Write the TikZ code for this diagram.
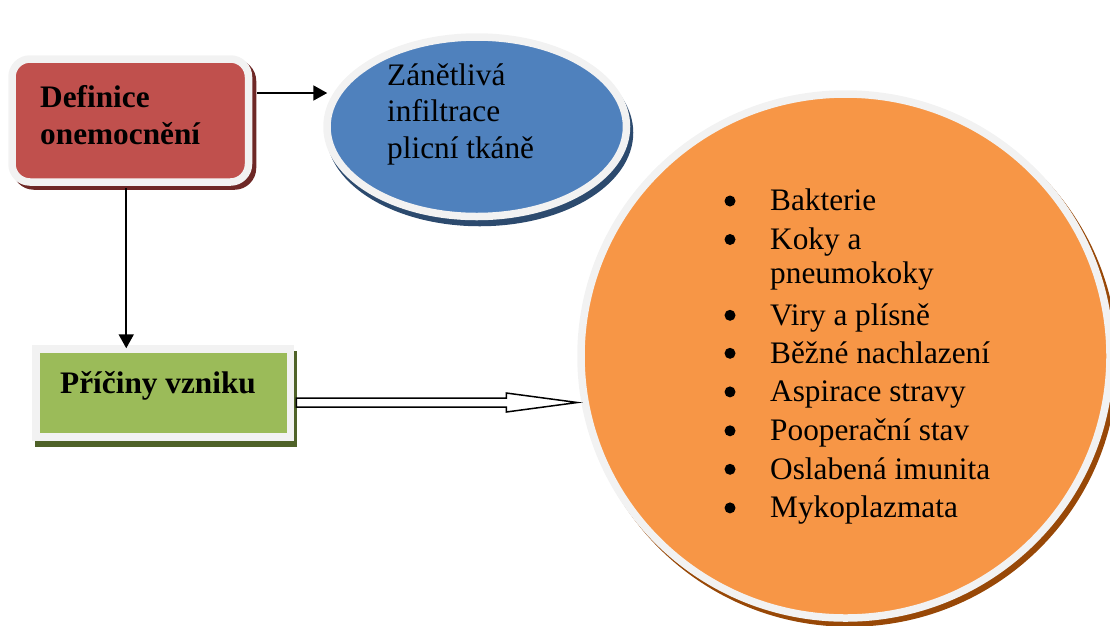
\documentclass[tikz,border=0pt]{standalone}
\usepackage{fontspec}
\setmainfont{Liberation Serif}
\usetikzlibrary{shapes.geometric,arrows.meta,calc}
\definecolor{rim}{HTML}{F2F2F2}
\definecolor{redfill}{HTML}{C0504D}
\definecolor{redshade}{HTML}{6E2826}
\definecolor{bluefill}{HTML}{4F81BD}
\definecolor{blueshade}{HTML}{2C4A6E}
\definecolor{greenfill}{HTML}{9BBB59}
\definecolor{greenshade}{HTML}{4F6228}
\definecolor{orangefill}{HTML}{F79646}
\definecolor{orangeshade}{HTML}{984807}

\begin{document}
\begin{tikzpicture}[x=1pt,y=-1pt,
  panel/.style={draw=rim, line width=7.5pt, inner sep=0pt},
  castshadow/.style n args={3}{preaction={fill=#1,draw=#1,line width=7.5pt,
      transform canvas={xshift=#2,yshift=#3}}},
  txt/.style={anchor=base west, inner sep=0pt, font=\fontsize{31.3}{37}\selectfont},
  btxt/.style={anchor=base west, inner sep=0pt, font=\fontsize{31.3}{37}\selectfont\bfseries},
  arr/.style={line width=2pt, -{Triangle[width=15pt,length=14pt]}},
  blockarrow/.style={draw=black, line width=1.5pt, fill=white, line join=miter},
  dot/.style={circle, fill=black, inner sep=0pt, minimum size=11pt},
]
\useasboundingbox (0,0) rectangle (1110,625);
\begin{scope}
\clip (0,0) rectangle (1110,625);

% shapes
\node[panel, rectangle, rounded corners=18pt, fill=redfill,
      castshadow={redshade}{4pt}{-4pt},
      minimum width=236.5pt, minimum height=123pt] (def) at (130.25,120.5) {};
\node[panel, ellipse, fill=bluefill,
      castshadow={blueshade}{3pt}{-6pt},
      minimum width=299.5pt, minimum height=179.5pt] (infl) at (476.75,126.75) {};
\node[panel, ellipse, fill=orangefill,
      castshadow={orangeshade}{4pt}{-5pt},
      minimum width=529pt, minimum height=524pt] (causes) at (845.5,356) {};
\node[panel, rectangle, fill=greenfill,
      castshadow={greenshade}{3pt}{-6pt},
      minimum width=254.5pt, minimum height=88pt] (cause) at (163.25,393) {};

% texts
\node[btxt] (defa) at (40,107) {Definice};
\node[btxt] (defb) at (40,144.5) {onemocnění};
\node[txt] (infa) at (387,85) {Zánětlivá};
\node[txt] (infb) at (387,121.7) {infiltrace};
\node[txt] (infc) at (387,158.3) {plicní tkáně};
\node[btxt] (causetext) at (60,393.3) {Příčiny vzniku};

\foreach \y/\t [count=\i] in {210.7/Bakterie, 249.2/Koky a, 325/Viry a plísně,
    363/Běžné nachlazení, 401.6/Aspirace stravy, 440.5/Pooperační stav,
    479/Oslabená imunita, 517.6/Mykoplazmata} {
  \node[dot] (b\i) at (730,\y-9.7) {};
  \node[txt] (item\i) at (770,\y) {\t};
}
\node[txt] (item2b) at (770,283.6) {pneumokoky};

% connectors
\draw[arr] ($(def.south)+(-4,2)$) -- ($(def.south |- cause.north)+(-4,3)$);
\draw[arr] ($(def.east)+(5,-27.5)$) -- ($(def.east -| infl.west)+(4,-27.5)$);

\coordinate (bs) at ($(cause.east)+(2,9.5)$);
\coordinate (bt) at ($(cause.east -| causes.west)+(0,9.5)$);
\draw[blockarrow] ($(bs)+(0,-4.5)$) -- ($(bt)+(-71,-4.5)$) -- ($(bt)+(-71,-9.5)$)
  -- (bt) -- ($(bt)+(-71,9.5)$) -- ($(bt)+(-71,4.5)$) -- ($(bs)+(0,4.5)$) -- cycle;
\end{scope}
\end{tikzpicture}
\end{document}
